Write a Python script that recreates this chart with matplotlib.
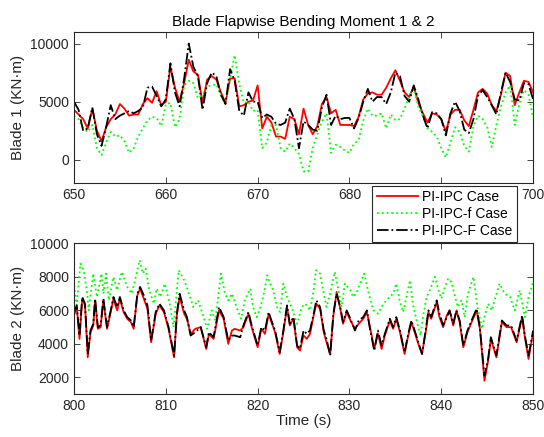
import numpy as np
import matplotlib
matplotlib.use("Agg")
import matplotlib.pyplot as plt

plt.rcParams["font.family"] = ["Liberation Sans", "DejaVu Sans"]

# ---- Blade 1, 650-700 s (0.5 s steps) ----
t1 = np.arange(650.0, 700.01, 0.5)

b1_pi = [4300, 3900, 3500, 2700, 4400, 2500, 1600, 2800, 3500, 3900,
         4800, 4400, 3800, 3900, 3900, 4800, 5300, 4900, 5900, 4700,
         5000, 8000, 6200, 5000, 6600, 8600, 7600, 7300, 4900, 6900,
         7200, 6900, 5800, 4900, 7000, 7000, 4600, 4700, 5000, 5100,
         6400, 2700, 3700, 3200, 2000, 2000, 1800, 3700, 3500, 2200,
         4400, 3000, 2200, 2900, 4800, 5400, 4000, 4300, 3000, 3000,
         3000, 2900, 3700, 5200, 5700, 5800, 5600, 5600, 6200, 7000,
         7700, 6800, 5800, 5400, 6300, 4900, 4000, 3200, 4000, 3900,
         3500, 2400, 3900, 4300, 4300, 3400, 2900, 4300, 5800, 6100,
         5700, 4700, 4200, 5600, 7500, 7200, 4700, 5800, 6800, 6700,
         5800]

b1_f = [3800, 3500, 2700, 2400, 3000, 1000, 400, 1500, 2400, 2000,
        2100, 1600, 600, 1000, 2000, 2700, 3400, 3700, 3600, 2900,
        4800, 4900, 2800, 3500, 6400, 6800, 6600, 5300, 5600, 6300,
        6400, 6500, 5500, 4800, 7000, 9000, 6500, 4900, 5000, 4200,
        4300, 1000, 1500, 3000, 3000, 1000, 700, 1400, 1000, 500,
        -1000, -1000, 1000, 2200, 3300, 4000, 600, 1300, 1100, 800,
        600, 1400, 1700, 3400, 4400, 3800, 3800, 4000, 2700, 3900,
        3400, 3500, 4400, 5500, 6100, 4600, 3700, 2700, 2400, 2000,
        1000, 200, 1500, 2800, 2400, 1200, 700, 2900, 3800, 3500,
        2800, 1100, 3000, 4600, 5800, 6400, 3000, 4800, 6000, 5600,
        3600]

b1_F = [5000, 4300, 2500, 2700, 4500, 2200, 1200, 2800, 4700, 3500,
        3800, 4000, 4200, 4000, 4200, 4500, 6200, 6300, 5500, 4600,
        5200, 8300, 5800, 4600, 7000, 10000, 8000, 7200, 4300, 6600,
        7500, 7200, 5600, 4800, 7800, 6800, 4200, 3800, 5800, 5000,
        5000, 3600, 3900, 3700, 3100, 3000, 3200, 4400, 3500, 1000,
        3300, 3000, 2600, 2500, 4500, 5600, 3000, 3800, 3500, 3600,
        3600, 2700, 3600, 5000, 6100, 5000, 5400, 5400, 4800, 5800,
        7500, 7200, 5500, 5000, 6400, 5200, 3800, 2700, 4100, 4000,
        3500, 2100, 4000, 5000, 4200, 2600, 2300, 3500, 5500, 6000,
        5400, 4700, 3900, 5800, 7500, 6700, 5200, 5100, 6600, 6500,
        5200]

# ---- Blade 2, 800-850 s ----
t2 = [800.0, 800.3, 800.6, 800.9, 801.2, 801.5, 801.8, 802.1, 802.3, 802.6,
      802.9, 803.2, 803.6, 804.0, 804.3, 804.7, 805.0, 805.4, 805.8, 806.2,
      806.5, 806.9, 807.2, 807.6, 808.0, 808.4, 808.9, 809.3, 809.8, 810.3,
      810.9, 811.2, 811.5, 812.0, 812.3, 812.7, 813.2, 813.8, 814.4, 814.7,
      815.2, 815.8, 816.3, 816.8, 817.2, 817.5, 818.1, 818.45, 819.0, 819.35,
      820.0, 820.4, 820.8, 821.2, 821.5, 821.9, 822.4, 822.8, 823.2, 823.5,
      823.9, 824.3, 824.6, 825.0, 825.35, 825.7, 826.1, 826.4, 826.8, 827.2,
      827.5, 827.9, 828.25, 828.6, 829.0, 829.3, 829.7, 830.1, 830.6, 831.0,
      831.5, 831.9, 832.2, 832.7, 833.1, 833.5, 833.85, 834.4, 834.75, 835.1,
      835.5, 836.0, 836.4, 836.75, 837.1, 837.5, 837.9, 838.3, 838.6, 838.9,
      839.5, 839.8, 840.2, 840.6, 840.9, 841.3, 841.65, 842.0, 842.4, 842.85,
      843.3, 843.85, 844.2, 844.7, 845.1, 845.4, 846.0, 846.6, 847.1, 847.6,
      848.2, 848.8, 849.1, 849.5, 850.0]

b2_pi = [5700, 6200, 4300, 6700, 6300, 3200, 4700, 5100, 6600, 4900,
         5000, 6600, 4900, 5900, 6700, 6000, 6700, 5900, 5500, 5300,
         4900, 6900, 7300, 6700, 6100, 4100, 5800, 6300, 5900, 4900,
         3200, 5700, 6800, 5800, 5500, 4600, 4900, 5000, 3700, 4600,
         4300, 6000, 5500, 4000, 4800, 4900, 4800, 5000, 5800, 5000,
         3800, 4900, 4600, 5800, 5300, 4700, 3400, 4700, 6200, 5100,
         5500, 3800, 3600, 4500, 4300, 4600, 5700, 6400, 6100, 4700,
         4100, 3400, 5700, 7100, 6100, 5200, 5900, 5400, 4900, 5200,
         5500, 5900, 5100, 3700, 4600, 3700, 4500, 5400, 4900, 5500,
         4700, 3400, 4500, 5300, 4700, 4000, 3400, 4700, 5900, 5500,
         6500, 5600, 5000, 5700, 6000, 5100, 6000, 5300, 3800, 4700,
         5300, 6000, 4900, 1800, 3000, 4300, 3200, 5300, 5000, 5000,
         4100, 5600, 4400, 3100, 4700]

b2_F = [5900, 6300, 4500, 6800, 6400, 3400, 4800, 5200, 6700, 5000,
        5100, 6700, 5000, 6000, 6800, 6200, 6800, 6000, 5600, 5400,
        5000, 7000, 7400, 6900, 6300, 4200, 5900, 6400, 6000, 5000,
        3300, 5800, 7000, 6000, 5600, 4500, 4700, 5000, 3800, 4700,
        4400, 6200, 5600, 4200, 4500, 4500, 4400, 5100, 5900, 5100,
        3900, 5000, 4800, 5900, 5400, 4800, 3500, 4800, 6300, 5200,
        5600, 3900, 3700, 4800, 4600, 4800, 5800, 6600, 6200, 4800,
        4300, 3300, 5800, 7000, 6200, 5300, 6000, 5500, 4800, 5400,
        5600, 6000, 5000, 3600, 4800, 3900, 4600, 5500, 5000, 5600,
        4800, 3500, 4600, 5400, 4800, 4100, 3400, 4800, 6000, 5600,
        6600, 5800, 5100, 5600, 6000, 5200, 6000, 5400, 3900, 4800,
        5400, 6100, 5000, 2100, 3100, 4400, 3300, 5400, 5100, 5100,
        4200, 5700, 4500, 3300, 4800]

t2_f = [800.0, 800.3, 800.7, 801.05, 801.4, 801.6, 802.1, 802.5, 803.0, 803.2,
        803.5, 803.8, 804.3, 804.7, 805.2, 805.8, 806.3, 806.9, 807.15, 807.5,
        807.8, 808.2, 808.7, 809.0, 809.4, 809.9, 810.5, 810.85, 811.4, 812.0,
        812.4, 813.0, 813.5, 814.0, 814.5, 815.0, 815.4, 816.0, 816.45, 816.8,
        817.2, 817.7, 818.2, 818.6, 819.2, 819.5, 819.9, 820.3, 820.6, 821.05,
        821.35, 821.7, 822.1, 822.45, 822.8, 823.2, 823.7, 824.3, 824.8, 825.2,
        825.7, 826.1, 826.35, 826.8, 827.2, 827.5, 827.9, 828.4, 828.8, 829.15,
        829.5, 830.1, 830.4, 830.8, 831.15, 831.6, 832.1, 832.6, 833.1, 833.7,
        834.2, 834.75, 835.1, 835.5, 835.85, 836.2, 836.6, 836.9, 837.3, 837.75,
        838.0, 838.4, 838.75, 839.3, 839.7, 840.0, 840.4, 840.75, 841.1, 841.5,
        841.8, 842.2, 842.55, 842.9, 843.5, 844.0, 844.45, 844.7, 845.1, 845.5,
        845.8, 846.35, 846.9, 847.5, 848.0, 848.55, 849.1, 849.5, 850.0]

b2_f = [7500, 6300, 8800, 8400, 7200, 6000, 8200, 6800, 8200, 7000,
        8200, 6600, 8000, 7200, 8300, 7400, 7000, 8400, 9000, 8200,
        8500, 7200, 6400, 7300, 6800, 7600, 6200, 5000, 8400, 7800,
        7200, 6200, 6600, 5800, 4900, 6000, 5400, 8200, 7000, 6600,
        7000, 6200, 5500, 6600, 7300, 6200, 5600, 6200, 6800, 8100,
        7600, 7200, 6200, 5900, 7600, 6800, 6200, 5200, 6200, 6400,
        6000, 7200, 8400, 8200, 7000, 6200, 7000, 8300, 7200, 6200,
        7600, 7200, 6800, 7100, 7600, 8200, 7000, 6000, 5800, 6400,
        6700, 7000, 7600, 6500, 5900, 6800, 7800, 6400, 5400, 4500,
        5600, 6800, 7200, 8000, 7200, 6700, 7400, 7900, 7700, 6800,
        6200, 6600, 5600, 7000, 8000, 6000, 4900, 5600, 6400, 6000,
        6600, 7600, 7000, 6800, 6000, 7200, 5600, 6800, 7700]

labels = ["PI-IPC Case", "PI-IPC-f Case", "PI-IPC-F Case"]
# the 690 label sits under the legend in the original, so it is not shown
x1_ticklabels = ["650", "660", "670", "680", "", "700"]

axis_color = "#262626"

fig = plt.figure(figsize=(5.44, 4.37), dpi=100)
ax1 = fig.add_axes([0.136, 0.581, 0.844, 0.346])
ax2 = fig.add_axes([0.136, 0.098, 0.844, 0.345])

h1, = ax1.plot(t1, b1_pi, color="#ff0000", linestyle="-", linewidth=1.3)
h2, = ax1.plot(t1, b1_f, color="#00ff00", linestyle=":", linewidth=1.3)
h3, = ax1.plot(t1, b1_F, color="black", linestyle="-.", linewidth=1.3)

ax2.plot(t2, b2_pi, color="#ff0000", linestyle="-", linewidth=1.3)
ax2.plot(t2_f, b2_f, color="#00ff00", linestyle=":", linewidth=1.3)
ax2.plot(t2, b2_F, color="black", linestyle="-.", linewidth=1.3)

ax1.set_xlim(650, 700)
ax1.set_ylim(-2000, 11000)
ax1.set_xticks(np.arange(650, 701, 10))
ax1.set_xticklabels(x1_ticklabels)
ax1.set_yticks([0, 5000, 10000])
ax1.set_ylabel("Blade 1 (KN·m)", fontsize=11, color=axis_color)
ax1.set_title("Blade Flapwise Bending Moment 1 & 2", fontsize=11, pad=4)

ax2.set_xlim(800, 850)
ax2.set_ylim(1000, 10000)
ax2.set_xticks(np.arange(800, 851, 10))
ax2.set_yticks(np.arange(2000, 10001, 2000))
ax2.set_ylabel("Blade 2 (KN·m)", fontsize=11, color=axis_color)
ax2.set_xlabel("Time (s)", fontsize=11, color=axis_color, labelpad=1)

for ax in (ax1, ax2):
    ax.tick_params(direction="in", top=True, right=True, labelsize=10,
                   colors=axis_color, length=4, width=0.6)
    for sp in ax.spines.values():
        sp.set_color(axis_color)
        sp.set_linewidth(0.8)

leg = fig.legend([h1, h2, h3], labels, loc="upper right",
                 bbox_to_anchor=(0.950, 0.574), fontsize=10, handlelength=3.0,
                 handletextpad=0.3, borderpad=0.3, labelspacing=0.2,
                 borderaxespad=0, fancybox=False, framealpha=1,
                 edgecolor=axis_color)
leg.get_frame().set_linewidth(0.8)

fig.savefig("out.png", dpi=100)
